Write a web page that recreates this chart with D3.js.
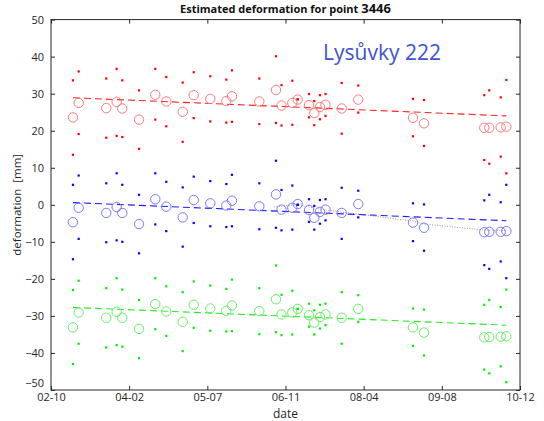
<!DOCTYPE html>
<html>
<head>
<meta charset="utf-8">
<title>Estimated deformation</title>
<script src="https://d3js.org/d3.v7.min.js"></script>
<style>
  body { margin: 0; background: #fff; }
  text { font-family: "Open Sans", "Liberation Sans", sans-serif; }
  .tick text { fill: #262626; font-size: 11px; }
</style>
</head>
<body>
<script>
// x tick labels (equally spaced on the axis)
var dateLabels = ["02-10", "04-02", "05-07", "06-11", "08-04", "09-08", "10-12"];
var yTicks = [50, 40, 30, 20, 10, 0, -10, -20, -30, -40, -50];

// epoch positions, in axis tick units
var epochPos = [0.281, 0.354, 0.707, 0.840, 0.912, 1.126, 1.334, 1.475, 1.685, 1.826,
                2.038, 2.243, 2.315, 2.665, 2.878, 2.949, 3.087, 3.156, 3.301, 3.368,
                3.441, 3.512, 3.719, 3.931, 4.631, 4.772, 5.543, 5.607, 5.753, 5.825];

// red series (mm)
var redMean = [23.6, 27.5, 26.1, 27.8, 26.0, 23.0, 29.7, 27.9, 25.1, 29.6,
               28.6, 28.0, 29.3, 27.9, 31.0, 26.8, 27.5, 28.4, 26.9, 24.8,
               26.4, 27.0, 26.0, 28.4, 23.5, 22.0, 20.8, 20.8, 20.9, 21.1];
var redUpper = [33.6, 36.0, 34.1, 36.7, 33.6, 30.9, 36.7, 34.5, 33.0, 35.8,
                34.7, 33.8, 36.3, 34.1, 40.1, 32.3, 33.5, 28.5, 29.9, 28.0,
                29.6, 29.9, 32.9, 32.2, 28.6, 28.3, 29.6, 30.9, 29.0, 33.7];
var redLower = [13.5, 19.1, 18.1, 18.6, 18.3, 15.1, 23.0, 21.2, 17.0, 23.4,
                22.5, 22.2, 22.4, 21.8, 22.1, 21.4, 21.6, 28.5, 23.6, 21.5,
                23.1, 24.0, 19.2, 24.9, 18.5, 15.9, 12.1, 11.1, 13.0, 8.5];

// blue series (mm)
var blueMean = [-4.7, -0.8, -2.2, -0.6, -2.2, -5.2, 1.5, -0.5, -3.4, 1.3,
                0.4, -0.2, 1.1, -0.4, 2.8, -1.3, -0.8, 0.2, -1.4, -3.5,
                -1.9, -1.3, -2.2, 0.2, -4.8, -6.2, -7.4, -7.3, -7.3, -7.1];
var blueUpper = [5.4, 7.9, 5.8, 8.5, 5.4, 2.7, 8.5, 6.2, 4.7, 7.6,
                 6.4, 5.6, 8.1, 5.8, 11.9, 4.0, 5.2, 0.0, 1.5, -0.3,
                 1.3, 1.5, 4.6, 3.8, 0.4, 0.1, 1.2, 2.7, 0.7, 5.4];
var blueLower = [-14.7, -9.2, -10.1, -9.6, -10.0, -13.1, -5.3, -7.1, -11.3, -4.9,
                 -5.8, -6.0, -5.8, -6.6, -6.2, -6.9, -6.7, 0.0, -4.6, -6.7,
                 -5.1, -4.2, -9.2, -3.4, -9.8, -12.4, -16.3, -17.3, -15.3, -19.8];

// green series (mm)
var greenMean = [-33.1, -29.1, -30.5, -28.9, -30.5, -33.5, -26.8, -28.8, -31.6, -27.0,
                 -28.0, -28.6, -27.2, -28.7, -25.5, -29.6, -29.1, -28.1, -29.8, -31.8,
                 -30.3, -29.6, -30.5, -28.1, -33.1, -34.5, -35.8, -35.7, -35.6, -35.5];
var greenUpper = [-23.0, -20.5, -22.5, -19.8, -22.9, -25.7, -19.8, -22.0, -23.6, -20.7,
                  -21.8, -22.7, -20.2, -22.5, -16.4, -24.3, -23.2, -28.1, -26.7, -28.5,
                  -27.0, -26.7, -23.6, -24.4, -28.0, -28.3, -27.0, -25.7, -27.6, -22.9];
var greenLower = [-43.0, -37.5, -38.5, -37.9, -38.3, -41.4, -33.6, -35.4, -39.5, -33.2,
                  -34.0, -34.2, -34.1, -34.9, -34.4, -35.2, -35.0, -28.1, -32.9, -35.0,
                  -33.4, -32.5, -37.5, -31.6, -38.1, -40.7, -44.5, -45.5, -43.6, -47.9];

// linear trends (value at first and last epoch)
var redTrend = [28.9, 24.0];
var blueTrend = [0.6, -4.3];
var greenTrend = [-27.7, -32.5];

// grey dotted curve near the blue series
var greyPos = [2.85, 3.15, 3.51, 3.93, 4.63, 4.77, 5.54, 5.83];
var greyVal = [-0.6, 0.0, -1.4, -2.5, -4.4, -5.2, -6.8, -7.0];

var W = 544, H = 421;
var plotL = 51, plotR = 520, plotT = 19.6, plotB = 390;

var svg = d3.select("body").append("svg")
    .attr("width", W).attr("height", H);

var x = d3.scaleLinear().domain([0, 6]).range([plotL, plotR]);
var y = d3.scaleLinear().domain([-50, 50]).range([plotB, plotT]);

// frame
svg.append("rect")
    .attr("x", plotL).attr("y", plotT)
    .attr("width", plotR - plotL).attr("height", plotB - plotT)
    .attr("fill", "none").attr("stroke", "#262626").attr("stroke-width", 1);

var xAxis = d3.axisBottom(x).tickValues(d3.range(7))
    .tickFormat(function(d) { return dateLabels[d]; })
    .tickSizeInner(-4).tickSizeOuter(0).tickPadding(3);
svg.append("g").attr("transform", "translate(0," + plotB + ")").call(xAxis);

svg.append("g").attr("transform", "translate(0," + plotT + ")")
    .call(d3.axisTop(x).tickValues(d3.range(7)).tickFormat("").tickSizeInner(-4).tickSizeOuter(0));

var yAxis = d3.axisLeft(y).tickValues(yTicks)
    .tickSizeInner(-4).tickSizeOuter(0).tickPadding(7);
var yg = svg.append("g").attr("transform", "translate(" + plotL + ",0)").call(yAxis);
// lowest label sits a little higher, clear of the first date
yg.selectAll(".tick text").filter(function(d) { return d === -50; }).attr("dy", "-0.3em");

svg.append("g").attr("transform", "translate(" + plotR + ",0)")
    .call(d3.axisRight(y).tickValues(yTicks).tickFormat("").tickSizeInner(-4).tickSizeOuter(0));

svg.selectAll(".domain").remove();
svg.selectAll(".tick line").attr("stroke", "#262626");

// labels
svg.append("text")
    .attr("x", (plotL + plotR) / 2).attr("y", 418)
    .attr("text-anchor", "middle").attr("font-size", 12).attr("fill", "#262626")
    .text("date");

svg.append("text")
    .attr("transform", "translate(21," + ((plotT + plotB) / 2) + ") rotate(-90)")
    .attr("text-anchor", "middle").attr("font-size", 11.5).attr("fill", "#262626")
    .attr("xml:space", "preserve")
    .text("deformation  [mm]");

var title = svg.append("text")
    .attr("x", (plotL + plotR) / 2).attr("y", 13)
    .attr("text-anchor", "middle").attr("font-weight", "bold").attr("font-size", 11)
    .attr("fill", "#111");
title.append("tspan").text("Estimated deformation for point ");
title.append("tspan").attr("font-size", 13).text("3446");

svg.append("text")
    .attr("x", 382).attr("y", 60)
    .attr("text-anchor", "middle").attr("font-size", 21)
    .attr("fill", "#4152d4")
    .text("Lysůvky 222");

// grey dotted line
svg.append("path")
    .datum(d3.range(greyPos.length))
    .attr("fill", "none").attr("stroke", "#999").attr("stroke-width", 1)
    .attr("stroke-dasharray", "1,1.5")
    .attr("d", d3.line().x(function(i) { return x(greyPos[i]); })
                        .y(function(i) { return y(greyVal[i]); }));

var series = [
  { mean: redMean, upper: redUpper, lower: redLower, trend: redTrend,
    dot: "#ff0000", ring: "#ff7a7a", line: "#ff2020" },
  { mean: blueMean, upper: blueUpper, lower: blueLower, trend: blueTrend,
    dot: "#0000ff", ring: "#7a7aff", line: "#1a1aff" },
  { mean: greenMean, upper: greenUpper, lower: greenLower, trend: greenTrend,
    dot: "#00ee00", ring: "#66f066", line: "#22ee22" }
];

series.forEach(function(s) {
  var g = svg.append("g");
  var idx = d3.range(epochPos.length);

  g.append("line")
    .attr("x1", x(epochPos[0])).attr("y1", y(s.trend[0]))
    .attr("x2", x(epochPos[epochPos.length - 1])).attr("y2", y(s.trend[1]))
    .attr("stroke", s.line).attr("stroke-width", 1.1)
    .attr("stroke-dasharray", "7,4");

  g.selectAll("circle.ring").data(idx).enter().append("circle")
    .attr("class", "ring")
    .attr("cx", function(i) { return x(epochPos[i]); })
    .attr("cy", function(i) { return y(s.mean[i]); })
    .attr("r", 4.7)
    .attr("fill", "none").attr("stroke", s.ring).attr("stroke-width", 1);

  [s.upper, s.lower].forEach(function(arr) {
    g.selectAll(null).data(idx).enter().append("rect")
      .attr("x", function(i) { return x(epochPos[i]) - 1.1; })
      .attr("y", function(i) { return y(arr[i]) - 1.1; })
      .attr("width", 2.2).attr("height", 2.2)
      .attr("fill", s.dot);
  });
});
</script>
</body>
</html>
